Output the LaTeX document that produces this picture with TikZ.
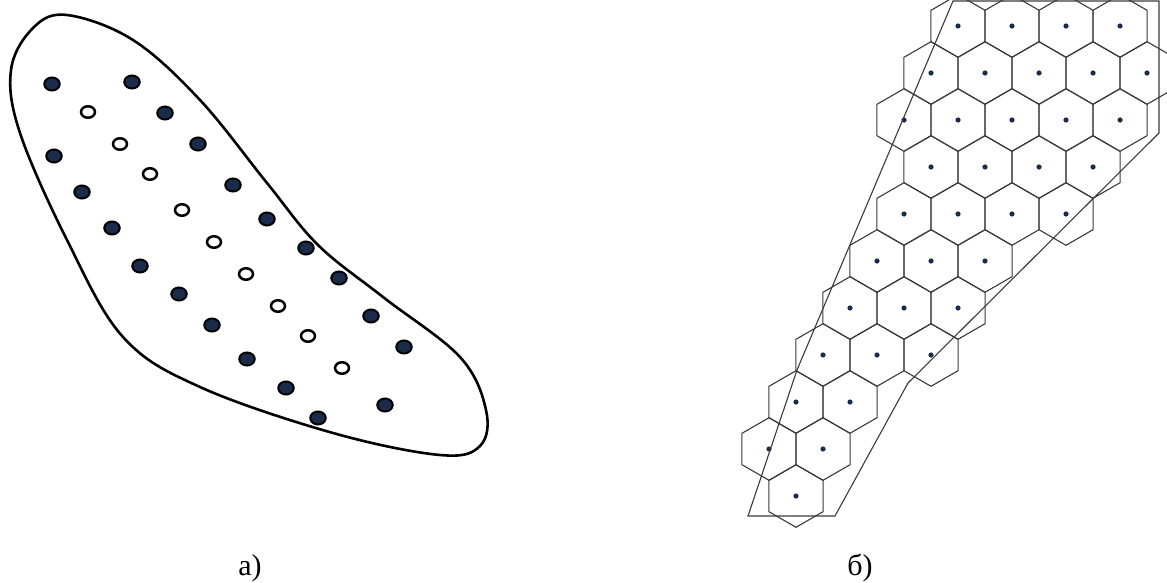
\documentclass[tikz,border=0pt]{standalone}
\usepackage{fontspec}
\setmainfont{Liberation Serif}
\usepackage{xcolor}
\usepackage{tikz}
\usetikzlibrary{shapes.geometric, positioning}
\definecolor{dotfill}{HTML}{1B2B4B}
\definecolor{cellline}{HTML}{3A3A3A}

\begin{document}
\begin{tikzpicture}[
  x=1pt, y=-1pt,
  outline/.style={line width=2.6pt, black},
  fulldot/.style={ellipse, draw=black, fill=dotfill, line width=2pt,
    minimum width=15.5pt, minimum height=13pt, inner sep=0pt},
  opendot/.style={ellipse, draw=black, fill=white, line width=2.5pt,
    minimum width=14pt, minimum height=11.5pt, inner sep=0pt},
  hexcell/.style={regular polygon, regular polygon sides=6, shape border rotate=90,
    draw=cellline, line width=1.1pt, minimum size=62.6pt, inner sep=0pt, outer sep=0pt},
  frame/.style={draw=cellline, line width=1.1pt},
  caption/.style={font=\fontsize{30}{36}\selectfont, anchor=base}
]
  \clip (0,0) rectangle (1167,583);

  \draw[outline] plot[smooth cycle, tension=0.6] coordinates {
    (67,15) (133,40) (200,100) (267,183) (318,245) (383,297) (460,357)
    (486,410) (480,446) (440,455) (333,433) (200,387) (123,337)
    (67,240) (20,133) (11,70) (33,28)};

  \foreach \x/\y [count=\i] in {52/84, 132/82, 165/113, 198/144, 54/156, 82/192,
      233/185, 112/228, 267/219, 306/248, 140/266, 339/278, 179/294, 371/316,
      212/325, 404/347, 247/359, 286/388, 385/405, 318/418}
    \node[fulldot] (full\i) at (\x,\y) {};
  \foreach \x/\y [count=\i] in {88/112, 120/144, 150/174, 182/210, 214/242,
      246/274, 278/306, 308/336, 342/368}
    \node[opendot] (open\i) at (\x,\y) {};

  \foreach \y/\xs in {26/{958,1012,1066,1120}, 73/{931,985,1039,1093,1147},
      120/{904,958,1012,1066,1120}, 167/{931,985,1039,1093},
      214/{904,958,1012,1066}, 261/{877,931,985}, 308/{850,904,958},
      355/{823,877,931}, 402/{796,850}, 449/{769,823}, 496/{796}}
    \foreach \x in \xs {
      \node[hexcell] (cell-\y-\x) at (\x,\y) {};
      \fill[dotfill] (cell-\y-\x.center) circle (2.6pt);
    }

  \draw[frame] (953,1) -- (1159,1) -- (1159,133) -- (908,383) -- (835,516)
    -- (748,516) -- (797,370) -- cycle;

  \node[caption] (capA) at (250,575) {а)};
  \node[caption] (capB) at (860,575) {б)};
\end{tikzpicture}
\end{document}
